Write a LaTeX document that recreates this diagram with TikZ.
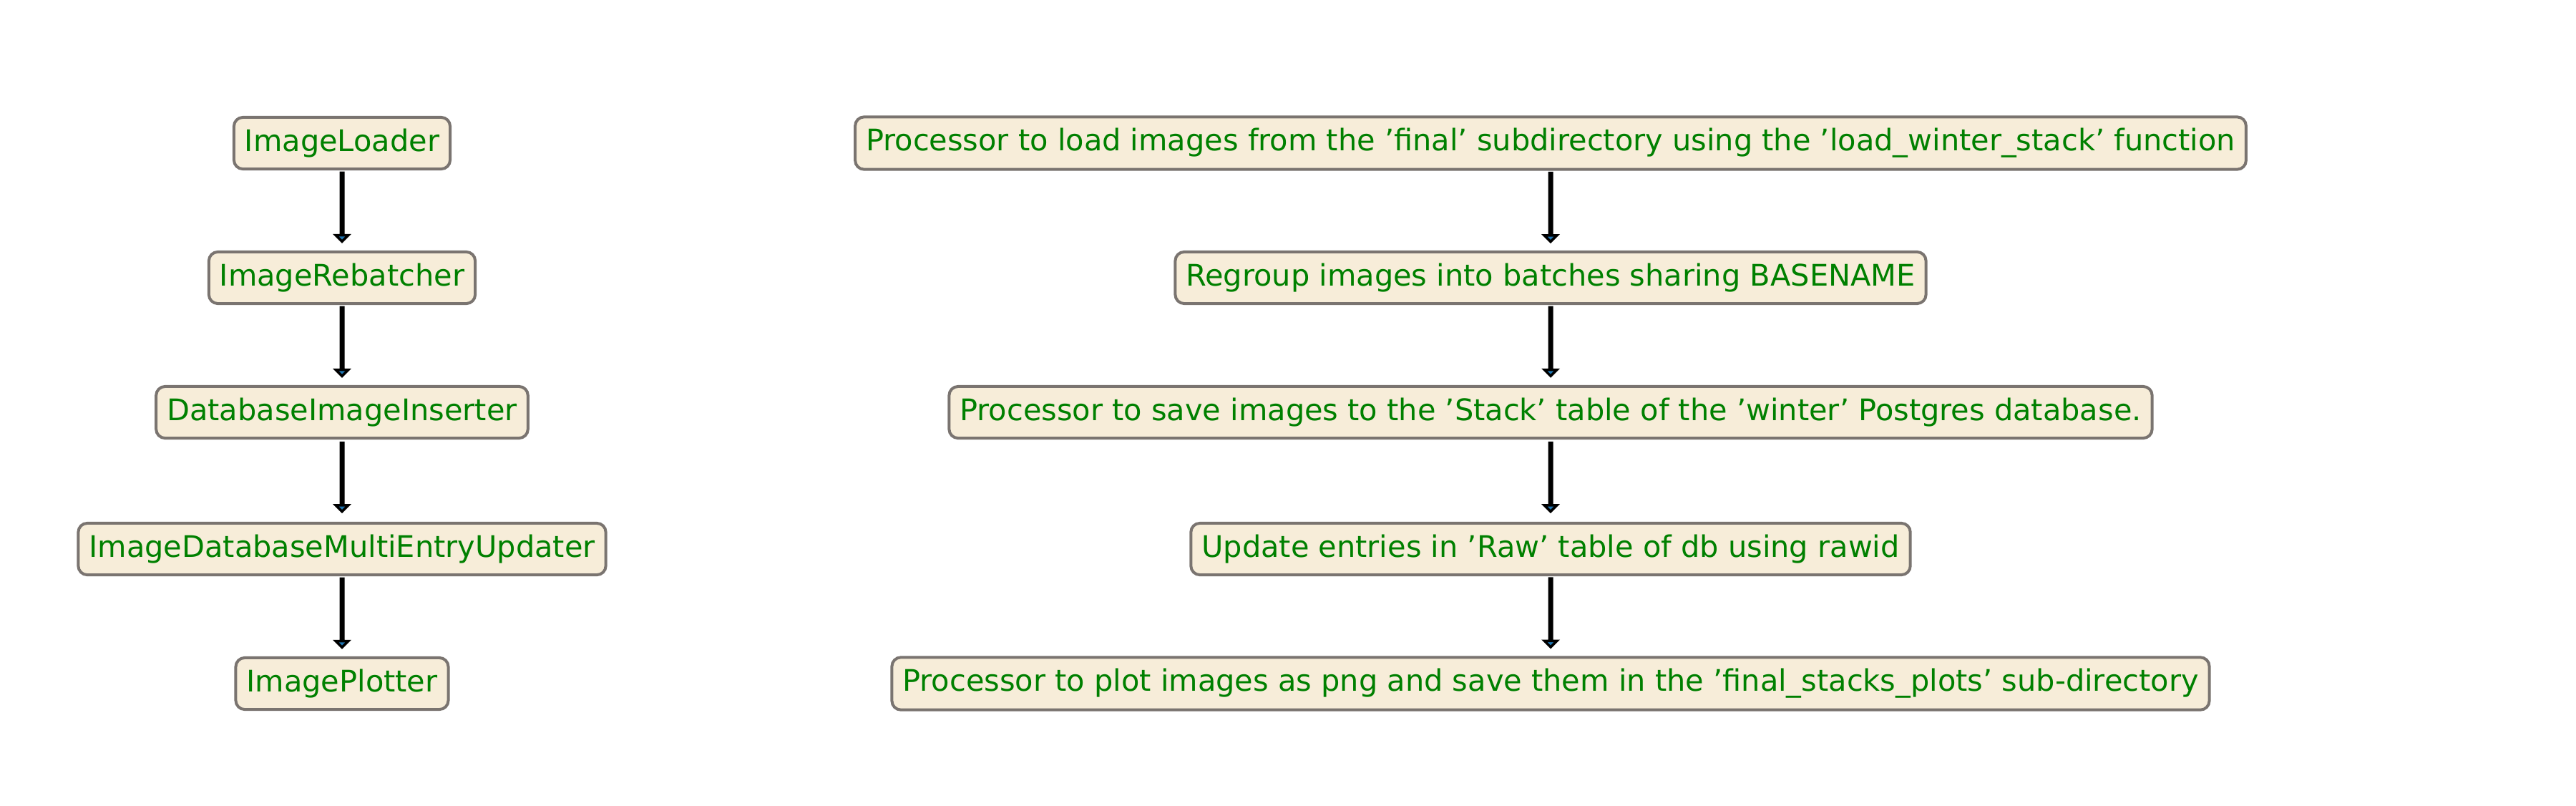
\documentclass[tikz,border=0pt]{standalone}
\usepackage{fontspec}
\setmainfont{DejaVu Sans}
\usetikzlibrary{shapes.arrows}
\definecolor{boxfill}{HTML}{F7EDD9}
\definecolor{boxdraw}{HTML}{7A7470}
\definecolor{txt}{HTML}{008000}
\definecolor{arr}{HTML}{1F77B4}
\begin{document}
\begin{tikzpicture}[x=1pt,y=1pt,
  box/.style={draw=boxdraw,line width=0.8pt,fill=boxfill,rounded corners=2.5pt,
    text=txt,font=\fontsize{8.3}{10}\selectfont,inner xsep=3pt,inner ysep=3.2pt},
  fat/.style={single arrow,draw=black,fill=arr,line width=0.7pt,rotate=-90,
    minimum height=19.2pt,minimum width=2pt,single arrow head extend=1.4pt,
    single arrow head indent=0pt,inner sep=0pt}]
\useasboundingbox (0,0) rectangle (720,-225);
\foreach \n/\y in {1/-40,2/-77.6,3/-115.2,4/-153.4,5/-191}{\coordinate (r\n) at (0,\y);}
\node[box] (a1) at (95.6,-40) {ImageLoader};
\node[box] (a2) at (95.6,-77.6) {ImageRebatcher};
\node[box] (a3) at (95.6,-115.2) {DatabaseImageInserter};
\node[box] (a4) at (95.6,-153.4) {ImageDatabaseMultiEntryUpdater};
\node[box] (a5) at (95.6,-191) {ImagePlotter};
\node[box] (b1) at (433.4,-40) {Processor to load images from the 'final' subdirectory using the 'load\_winter\_stack' function};
\node[box] (b2) at (433.4,-77.6) {Regroup images into batches sharing BASENAME};
\node[box] (b3) at (433.4,-115.2) {Processor to save images to the 'Stack' table of the 'winter' Postgres database.};
\node[box] (b4) at (433.4,-153.4) {Update entries in 'Raw' table of db using rawid};
\node[box] (b5) at (433.4,-191) {Processor to plot images as png and save them in the 'final\_stacks\_plots' sub-directory};
\foreach \c in {a,b}{
  \foreach \i/\j in {1/2,2/3,3/4,4/5}{
    \path (\c\i.south) -- (\c\j.north) node[fat,pos=0.45]{};
  }}
\end{tikzpicture}
\end{document}
